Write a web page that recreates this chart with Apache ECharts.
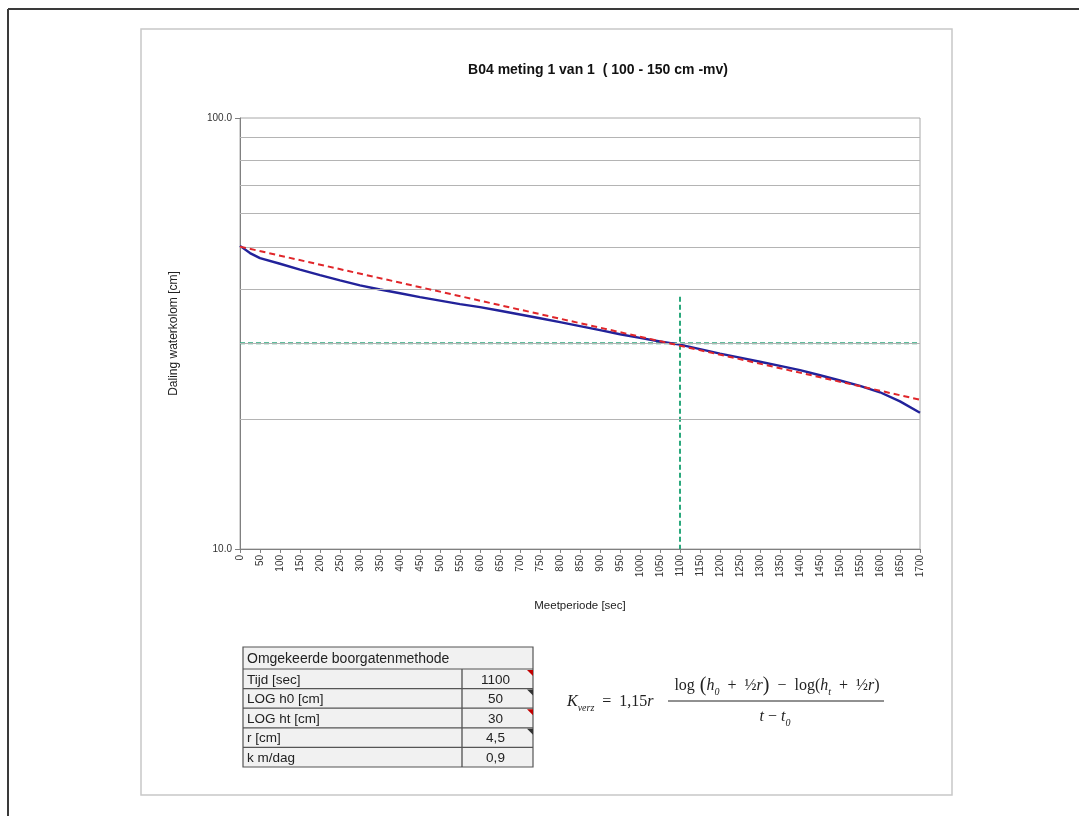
<!DOCTYPE html>
<html>
<head>
<meta charset="utf-8">
<script src="https://cdn.jsdelivr.net/npm/echarts@6/dist/echarts.min.js"></script>
<style>
html,body{margin:0;padding:0;background:#fff;}
#chart{width:1079px;height:816px;}
</style>
</head>
<body>
<div id="chart"></div>
<script>
// ---- data ----
const chartTitle = 'B04 meting 1 van 1  ( 100 - 150 cm -mv)';
const xAxisName = 'Meetperiode [sec]';
const yAxisName = 'Daling waterkolom [cm]';
const measTime = [0,25,50,100,150,200,250,300,350,400,450,500,550,600,650,700,750,800,850,900,950,1000,1050,1100,1150,1200,1250,1300,1350,1400,1450,1500,1550,1600,1650,1700];
const measLevel = [50.5,48.6,47.3,45.9,44.5,43.2,42.0,40.9,40.0,39.2,38.4,37.7,37.0,36.4,35.7,35.0,34.3,33.6,32.9,32.2,31.5,30.9,30.3,29.8,29.1,28.4,27.8,27.2,26.6,26.0,25.3,24.6,23.9,23.1,22.0,20.7];
const trendTime = [0,1700];
const trendLevel = [50.3,22.2];
const refHorizTime = [0,1700];
const refHorizLevel = [30,30];
const refVertTime = [1100,1100];
const refVertLevel = [38.5,10];
const gridValues = [20,30,40,50,60,70,80,90];
const tableHeader = 'Omgekeerde boorgatenmethode';
const tableLabels = ['Tijd [sec]','LOG h0 [cm]','LOG ht [cm]','r [cm]','k m/dag'];
const tableValues = ['1100','50','30','4,5','0,9'];

const pairs = (a,b) => a.map((x,i)=>[x,b[i]]);

// ---- graphic helpers ----
const g = [];
g.push({type:'line', shape:{x1:8,y1:9,x2:1079,y2:9}, style:{stroke:'#3a3a3a', lineWidth:2}, z:1});
g.push({type:'line', shape:{x1:8,y1:9,x2:8,y2:816}, style:{stroke:'#3a3a3a', lineWidth:2}, z:1});
g.push({type:'rect', shape:{x:141,y:29,width:811,height:766}, style:{fill:'none', stroke:'#c8c8c8', lineWidth:1.5}, z:-1});
g.push({type:'text', x:598, y:70, style:{text:chartTitle, fontFamily:'Liberation Sans', fontWeight:'bold', fontSize:14, fill:'#111', textAlign:'center', textVerticalAlign:'middle'}});

// table
const tX = 243, tW = 290, tTop = 647, hdrH = 22, rowH = 19.6, colX = 462;
const tBottom = tTop + hdrH + rowH*tableLabels.length;
const tFont = 'Liberation Sans';
g.push({type:'rect', shape:{x:tX,y:tTop,width:tW,height:tBottom-tTop}, style:{fill:'#f1f1f1', stroke:'#555', lineWidth:1.2}});
g.push({type:'text', x:tX+4, y:tTop+hdrH/2+1, style:{text:tableHeader, fontFamily:tFont, fontSize:14, fill:'#222', textVerticalAlign:'middle'}});
g.push({type:'line', shape:{x1:colX,y1:tTop+hdrH,x2:colX,y2:tBottom}, style:{stroke:'#444', lineWidth:1.2}});
tableLabels.forEach((lab,i)=>{
  const y0 = tTop + hdrH + rowH*i;
  g.push({type:'line', shape:{x1:tX,y1:y0,x2:tX+tW,y2:y0}, style:{stroke:'#555', lineWidth:1.2}});
  g.push({type:'text', x:tX+4, y:y0+rowH/2+1, style:{text:lab, fontFamily:tFont, fontSize:13.5, fill:'#222', textVerticalAlign:'middle'}});
  g.push({type:'text', x:(colX+tX+tW)/2 - 2, y:y0+rowH/2+1, style:{text:tableValues[i], fontFamily:tFont, fontSize:13.5, fill:'#222', textAlign:'center', textVerticalAlign:'middle'}});
  if (i < 4) {
    const tx = tX+tW, ty = y0+1;
    g.push({type:'polygon', shape:{points:[[tx-6,ty],[tx,ty],[tx,ty+6]]}, style:{fill: i%2===0 ? '#c00000' : '#333'}});
  }
});

// formula
const rich = {
  f:{fontFamily:'Liberation Serif', fontSize:16, fill:'#222', lineHeight:22},
  i:{fontFamily:'Liberation Serif', fontStyle:'italic', fontSize:16, fill:'#222', lineHeight:22},
  p:{fontFamily:'Liberation Serif', fontSize:20, fill:'#222', lineHeight:22},
  s:{fontFamily:'Liberation Serif', fontStyle:'italic', fontSize:10, fill:'#222', lineHeight:14, verticalAlign:'bottom'}
};
g.push({type:'text', x:567, y:702, style:{text:'{i|K}{s|verz}{f|  =  1,15}{i|r}', rich:rich, textVerticalAlign:'middle'}});
g.push({type:'line', shape:{x1:668,y1:701,x2:884,y2:701}, style:{stroke:'#222', lineWidth:1}});
g.push({type:'text', x:777, y:686, style:{text:'{f|log}{p| (}{i|h}{s|0}{f|  +  ½}{i|r}{p|)}{f|  −  log(}{i|h}{s|t}{f|  +  ½}{i|r}{f|)}', rich:rich, textAlign:'center', textVerticalAlign:'middle'}});
g.push({type:'text', x:775, y:717, style:{text:'{i|t}{f| − }{i|t}{s|0}', rich:rich, textAlign:'center', textVerticalAlign:'middle'}});

const chart = echarts.init(document.getElementById('chart'), null, {renderer:'canvas'});
chart.setOption({
  backgroundColor:'#fff',
  animation:false,
  graphic: g,
  grid:{left:240, right:159, top:118, bottom:267, show:true, borderColor:'#a8a8a8', borderWidth:1},
  xAxis:{
    type:'value', min:0, max:1700, interval:50,
    name:xAxisName, nameLocation:'middle', nameGap:51,
    nameTextStyle:{fontFamily:'Liberation Sans', fontSize:11.5, color:'#222'},
    axisLine:{show:true, onZero:false, lineStyle:{color:'#808080'}},
    axisTick:{show:true, length:4, lineStyle:{color:'#808080'}},
    axisLabel:{rotate:90, fontFamily:'Liberation Sans', fontSize:10, color:'#333', margin:6, showMinLabel:true, showMaxLabel:true, formatter:(v)=>String(v)},
    splitLine:{show:false}
  },
  yAxis:{
    type:'log', logBase:10, min:10, max:100,
    name:yAxisName, nameLocation:'middle', nameGap:60,
    nameTextStyle:{fontFamily:'Liberation Sans', fontSize:12, color:'#222'},
    axisLine:{show:true, lineStyle:{color:'#808080'}},
    axisTick:{show:true, length:5, lineStyle:{color:'#808080'}},
    axisLabel:{fontFamily:'Liberation Sans', fontSize:10, color:'#333', margin:8, formatter:(v)=>Number(v).toFixed(1)},
    splitLine:{show:false}
  },
  series:[
    {type:'line', data:[], silent:true,
      markLine:{silent:true, symbol:'none', label:{show:false},
        lineStyle:{color:'#b4b4b4', type:'solid', width:1},
        data: gridValues.map(v=>({yAxis:v}))}, z:1},
    {type:'line', data:pairs(refHorizTime, refHorizLevel), showSymbol:false, silent:true,
      lineStyle:{color:'#2aa87c', width:2, type:[5,3]}, z:3},
    {type:'line', data:pairs(refVertTime, refVertLevel), showSymbol:false, silent:true,
      lineStyle:{color:'#2aa87c', width:2, type:[5,3]}, z:3},
    {type:'line', data:pairs(measTime, measLevel), showSymbol:false, silent:true,
      lineStyle:{color:'#22229a', width:2.4}, z:4},
    {type:'line', data:pairs(trendTime, trendLevel), showSymbol:false, silent:true,
      lineStyle:{color:'#e0262a', width:2, type:[6,4]}, z:5}
  ]
});
</script>
</body>
</html>
